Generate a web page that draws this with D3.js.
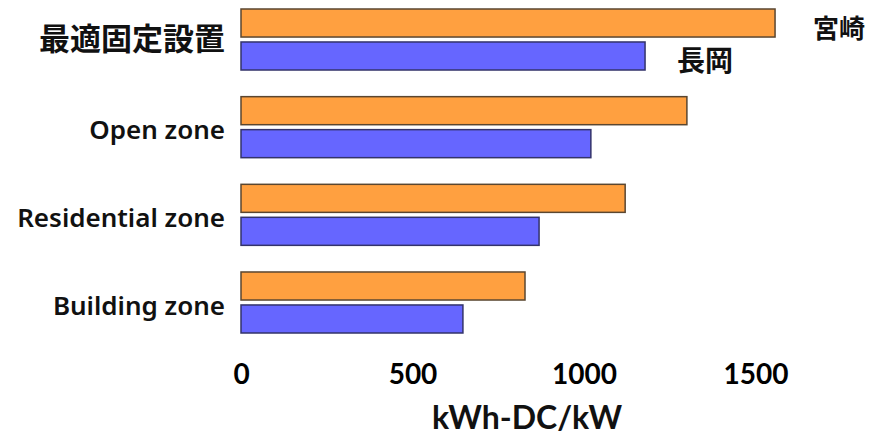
<!DOCTYPE html>
<html><head><meta charset="utf-8">
<script src="https://cdn.jsdelivr.net/npm/d3@7"></script>
<style>body{margin:0;background:#fff}svg{display:block}</style>
</head><body>
<script>
const categories = ["最適固定設置", "Open zone", "Residential zone", "Building zone"];
const seriesNames = ["宮崎", "長岡"];
const miyazaki = [1557, 1300, 1120, 828];
const nagaoka = [1178, 1020, 869, 647];
const tickValues = [0, 500, 1000, 1500];
const axisTitle = "kWh-DC/kW";

const W = 875, H = 438;
const svg = d3.select("body").append("svg").attr("width", W).attr("height", H);
const x = d3.scaleLinear().domain([0, 1000]).range([241, 584]);
const y = d3.scaleBand().domain(categories).range([9, 333]).paddingInner(0.304).paddingOuter(0);
const yi = d3.scaleBand().domain(seriesNames).range([0, y.bandwidth()]).paddingInner(0.15).paddingOuter(0);
const fills = ["#FFA040", "#6666FF"];
const strokes = ["#5a4630", "#33336a"];
const series = [miyazaki, nagaoka];

series.forEach((vals, si) => {
  svg.append("g").selectAll("rect").data(categories).join("rect")
    .attr("x", x(0))
    .attr("y", d => y(d) + yi(seriesNames[si]))
    .attr("width", (d, i) => x(vals[i]) - x(0))
    .attr("height", yi.bandwidth())
    .attr("fill", fills[si])
    .attr("stroke", strokes[si])
    .attr("stroke-width", 1.5);
});

// category labels
svg.append("g").selectAll("text").data(categories).join("text")
  .attr("x", 225)
  .attr("y", d => y(d) + y.bandwidth() / 2 + (d === categories[0] ? 2 : 5))
  .attr("text-anchor", "end")
  .attr("dominant-baseline", "middle")
  .attr("font-family", (d, i) => i === 0 ? "'Noto Sans CJK JP', sans-serif" : "'Noto Sans', 'Open Sans', sans-serif")
  .attr("font-weight", (d, i) => i === 0 ? 700 : 600)
  .attr("font-size", (d, i) => i === 0 ? 31 : 26)
  .attr("fill", "#111")
  .text(d => d);

// series labels
svg.append("text")
  .attr("x", x(miyazaki[0]) + 38)
  .attr("y", y(categories[0]) + yi(seriesNames[0]) + yi.bandwidth() / 2 + 8)
  .attr("dominant-baseline", "middle")
  .attr("font-family", "'Noto Sans CJK JP', sans-serif")
  .attr("font-weight", 700).attr("font-size", 26).attr("fill", "#111")
  .text(seriesNames[0]);
svg.append("text")
  .attr("x", x(nagaoka[0]) + 32)
  .attr("y", y(categories[0]) + yi(seriesNames[1]) + yi.bandwidth() / 2 + 7)
  .attr("dominant-baseline", "middle")
  .attr("font-family", "'Noto Sans CJK JP', sans-serif")
  .attr("font-weight", 700).attr("font-size", 28).attr("fill", "#111")
  .text(seriesNames[1]);

// x axis
const ax = svg.append("g").attr("transform", "translate(0,364)")
  .call(d3.axisBottom(x).tickValues(tickValues).tickSize(0).tickPadding(0).tickFormat(d3.format("d")));
ax.select(".domain").remove();
ax.selectAll("text")
  .attr("font-family", "Lato, 'Open Sans', sans-serif")
  .attr("font-weight", 700).attr("font-size", 28).attr("fill", "#000")
  .attr("dy", "0.71em");

svg.append("text")
  .attr("x", 527).attr("y", 421)
  .attr("text-anchor", "middle").attr("dominant-baseline", "middle")
  .attr("font-family", "Lato, 'Open Sans', sans-serif")
  .attr("font-weight", 700).attr("font-size", 32).attr("fill", "#111")
  .text(axisTitle);
</script>
</body></html>
